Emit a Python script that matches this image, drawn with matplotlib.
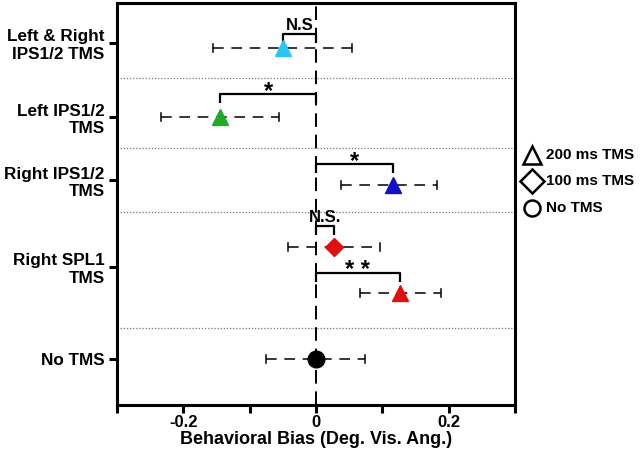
import matplotlib
matplotlib.use("Agg")
import matplotlib.pyplot as plt
from matplotlib.lines import Line2D

plt.rcParams['font.family'] = ['Liberation Sans', 'DejaVu Sans']
plt.rcParams['font.weight'] = 'bold'

# ---- data ----
conditions = ["Left & Right\nIPS1/2 TMS", "Left IPS1/2\nTMS", "Right IPS1/2\nTMS", "Right SPL1\nTMS", "No TMS"]
series_names = ["L&R IPS 200", "L IPS 200", "R IPS 200", "R SPL 100", "R SPL 200", "No TMS"]
means = [-0.050, -0.144, 0.116, 0.027, 0.126, 0.000]
err_lo = [-0.155, -0.233, 0.038, -0.042, 0.066, -0.075]
err_hi = [0.055, -0.056, 0.182, 0.096, 0.188, 0.074]
colors = ["#29c5f6", "#1faa2a", "#1010c8", "#e01010", "#e01010", "#000000"]
markers = ["^", "^", "^", "D", "^", "o"]
sig_labels = ["N.S", "*", "*", "N.S.", "* *"]
legend_labels = ["200 ms TMS", "100 ms TMS", "No TMS"]
legend_markers = ["^", "D", "o"]
xtick_vals = [-0.3, -0.2, -0.1, 0, 0.1, 0.2, 0.3]
xtick_labels = ["", "-0.2", "", "0", "", "0.2", ""]

# ---- layout (axis units, 0 = bottom) ----
ypos = [357, 288, 220, 158, 112, 46]
tick_pos = [362, 288, 225, 138, 46]
separators = [77, 193, 257, 327]
brk_y = [371, 311, 241, 179, 132]
msizes = [11, 11, 11, 9.5, 11, 12]

W, H = 640, 451
fig = plt.figure(figsize=(6.4, 4.51), dpi=100)
ax = fig.add_axes([117/W, 1-405/H, 398/W, 402/H])
ax.set_xlim(-0.3, 0.3)
ax.set_ylim(0, 402)

for s in separators:
    ax.axhline(s, color="#777777", lw=0.9, ls=(0, (1, 1.5)), zorder=1)
ax.axvline(0, color="black", lw=1.4, ls=(0, (7, 4)), zorder=2)

for i in range(len(means)):
    ax.plot([err_lo[i], err_hi[i]], [ypos[i], ypos[i]], color="black", lw=1.1,
            ls=(0, (7, 5)), zorder=3)
    for e in (err_lo[i], err_hi[i]):
        ax.plot([e, e], [ypos[i]-4, ypos[i]+4], color="black", lw=1.1, zorder=3)
    ax.plot(means[i], ypos[i], marker=markers[i], color=colors[i], ms=msizes[i],
            mec=colors[i], ls="none", zorder=5)

# significance brackets
for i in range(len(sig_labels)):
    m = means[i]
    y = brk_y[i]
    ax.plot([m, m, 0, 0], [y-9, y, y, y-9], color="black", lw=1.6, zorder=4,
            solid_capstyle="butt")
    if "*" in sig_labels[i]:
        ax.text(m/2, y - 9, sig_labels[i], ha="center", va="bottom",
                fontsize=17, fontweight="bold")
    else:
        ax.text(m/2, y + 1, sig_labels[i], ha="center", va="bottom",
                fontsize=12, fontweight="bold")

ax.set_xticks(xtick_vals)
ax.set_xticklabels(xtick_labels, fontsize=12, fontweight="bold")
ax.set_yticks(tick_pos)
ax.set_yticklabels(conditions, fontsize=12.3, fontweight="bold", ha="right",
                   multialignment="right", linespacing=1.2)
ax.set_xlabel("Behavioral Bias (Deg. Vis. Ang.)", fontsize=13, fontweight="bold", labelpad=1)
for sp in ax.spines.values():
    sp.set_linewidth(2.2)
ax.tick_params(axis="both", width=2.2, length=6, direction="out")
ax.tick_params(axis="x", pad=1)
ax.tick_params(axis="y", pad=3)

# legend (manual, outside axes on the right)
leg_rows = [155, 181, 208]
leg_ms = [12.5, 12.5, 11.5]
for lab, mk, yy, ms in zip(legend_labels, legend_markers, leg_rows, leg_ms):
    fig.add_artist(Line2D([532/W], [1-yy/H], transform=fig.transFigure, marker=mk,
                          ls="none", mfc="white", mec="black", mew=1.8, ms=ms))
    fig.text(546/W, 1-yy/H, lab, ha="left", va="center", fontsize=11, fontweight="bold")

fig.savefig("out.png", dpi=100)
